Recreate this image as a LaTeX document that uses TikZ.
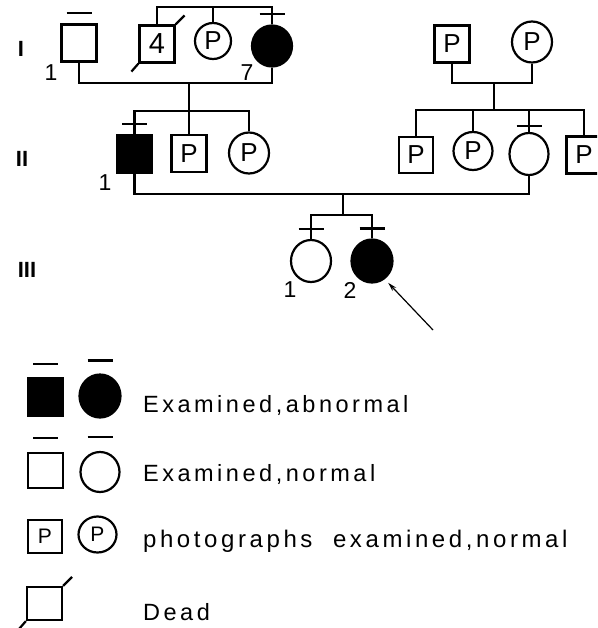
\documentclass[tikz,border=0pt]{standalone}
\usepackage{fontspec}
\usetikzlibrary{shapes.geometric,arrows.meta}
\newfontfamily\pedfont{Liberation Sans}
\newfontfamily\legfont[LetterSpace=15]{Liberation Sans}
% bar over an examined person, and the slash of a dead one
\newcommand{\exam}[2][10]{\draw[exbar] ([yshift=#1pt]#2.north) +(-12.5pt,0) -- +(12.5pt,0);}
\newcommand{\dead}[1]{\draw (#1.north east) -- ++(9pt,9pt) (#1.south west) -- ++(-7pt,-8pt);}

\begin{document}
\begin{tikzpicture}[x=1pt, y=-1pt, line width=2.2pt,
  male/.style={draw, rectangle, minimum width=35pt, minimum height=37pt, inner sep=0pt,
    font=\pedfont\fontsize{26}{26}\selectfont},
  female/.style={draw, ellipse, minimum width=40pt, minimum height=41pt, inner sep=0pt,
    font=\pedfont\fontsize{26}{26}\selectfont},
  sick/.style={fill=black},
  exbar/.style={line width=2.2pt},
  lbl/.style={font=\pedfont\fontsize{23}{23}\selectfont, inner sep=0pt},
  gen/.style={font=\pedfont\bfseries\fontsize{22}{22}\selectfont, inner sep=0pt},
  legtext/.style={font=\legfont\fontsize{23.5}{28}\selectfont, anchor=base west, inner sep=0pt},
  proband/.style={-{Stealth[length=9pt,width=5pt]}, line width=1.2pt, shorten >=5pt}]
\clip (0,0) rectangle (597,628);
%% generations
\node[gen] (gI) at (21,49) {I};
\node[gen] (gII) at (22,159) {II};
\node[gen] (gIII) at (27,270) {III};
%% generation I
\node[male] (p1) at (79,43) {};
\node[male, font=\pedfont\fontsize{29}{29}\selectfont] (p2) at (157,44) {4};
\node[female, minimum width=36pt, minimum height=36pt] (p3) at (213,41) {P};
\node[female, sick] (p4) at (272,46) {};
\node[male] (p5) at (452,44) {P};
\node[female] (p6) at (532,42) {P};
\coordinate (top) at (213,7);
\coordinate (m1) at (189,83);
\coordinate (m2) at (494,83);
\draw (p2.north) |- (top) -| (p4.north);
\draw (top) -- (p3.north);
\draw (p1.south) |- (m1) -| (p4.south);
\draw (p5.south) |- (m2) -| (p6.south);
\node[lbl] (n1) at (51,73) {1};
\node[lbl] (n7) at (247,73) {7};
\exam{p1}
\exam{p4}
\dead{p2}
%% generation II
\node[male, sick] (q1) at (134.5,154) {};
\node[male] (q2) at (189,153.5) {P};
\node[female] (q3) at (249,153) {P};
\node[male, minimum width=34pt, minimum height=36pt] (q4) at (416,155) {P};
\node[female, minimum width=39pt, minimum height=38pt] (q5) at (473,151) {P};
\node[female, minimum width=39pt, minimum height=42pt] (q6) at (529,154) {};
\node[male] (q7) at (584,155) {P};
\coordinate (s1) at (189,111);
\coordinate (s2) at (494,110);
\draw (m1) -- (s1);
\draw (q1.north) |- (s1) -| (q3.north);
\draw (s1) -- (q2.north);
\draw (m2) -- (s2);
\draw (q4.north) |- (s2) -| (q7.north);
\draw (q5.north) -- (q5.north |- s2);
\draw (q6.north) -- (q6.north |- s2);
\node[lbl] (n11) at (105,183) {1};
\exam{q1}
\exam[6]{q6}
%% generation III
\coordinate (m3) at (343,194);
\coordinate (s3) at (343,215);
\draw (q1.south) |- (m3) -| (q6.south);
\draw (m3) -- (s3);
\node[female, minimum height=42pt] (r1) at (311,261) {};
\node[female, sick, minimum width=41pt, minimum height=43pt] (r2) at (372,261) {};
\draw (r1.north) |- (s3) -| (r2.north);
\node[lbl] (n31) at (290,290) {1};
\node[lbl] (n32) at (350,290) {2};
\exam{r1}
\exam{r2}
\coordinate (ptr) at (433,330);
\draw[proband] (ptr) -- (r2.-55);
%% legend
\node[male, sick, minimum height=38pt] (k1) at (45.5,397) {};
\node[female, sick, minimum width=41pt, minimum height=43pt] (k2) at (100,396) {};
\node[male, minimum height=35pt] (k3) at (45.5,470.5) {};
\node[female, minimum width=39pt, minimum height=40pt] (k4) at (100,472) {};
\node[male, minimum width=34pt, minimum height=33pt, font=\pedfont\fontsize{21}{21}\selectfont] (k5) at (45,536.5) {P};
\node[female, minimum width=38pt, minimum height=36pt, font=\pedfont\fontsize{21}{21}\selectfont] (k6) at (97.5,534.5) {P};
\node[male, minimum height=33pt] (k7) at (44.5,603.5) {};
\exam[13]{k1}
\exam[13]{k2}
\exam[14]{k3}
\exam[14]{k4}
\dead{k7}
\node[legtext] (t1) at (142,412) {Examined,abnormal};
\node[legtext] (t2) at (142,481) {Examined,normal};
\node[legtext, font=\legfont\fontsize{24}{28}\selectfont] (t3) at (142,547) {photographs\ \ examined,normal};
\node[legtext] (t4) at (142,620) {Dead};
\end{tikzpicture}
\end{document}
